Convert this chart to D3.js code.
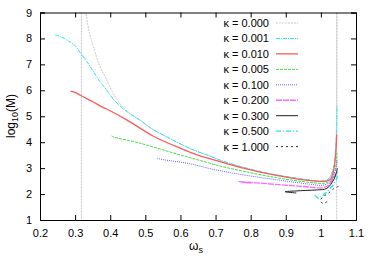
<!DOCTYPE html>
<html><head><meta charset="utf-8">
<script src="https://cdn.jsdelivr.net/npm/d3@7"></script>
<style>
html,body{margin:0;padding:0;background:#fff;}
text{font-family:"Liberation Sans",Arial,sans-serif;}
</style></head>
<body>
<svg id="c" width="374" height="262"></svg>
<script>
// ---- data ----
const xTicks = [0.2,0.3,0.4,0.5,0.6,0.7,0.8,0.9,1,1.1];
const yTicks = [1,2,3,4,5,6,7,8,9];
const refLines = [0.318, 1.045];
const kappaLabels = ["κ = 0.000","κ = 0.001","κ = 0.010","κ = 0.005","κ = 0.100","κ = 0.200","κ = 0.300","κ = 0.500","κ = 1.000"];

const k000 = [[0.329,9.4],[0.331,9.0],[0.341,8.2],[0.352,7.68],[0.37,6.95],[0.39,6.40],[0.41,5.85],[0.433,5.40],[0.46,5.07],[0.485,4.84],[0.52,4.50],[0.561,4.20],[0.60,3.93],[0.637,3.70],[0.684,3.46],[0.713,3.30],[0.78,3.02],[0.85,2.79],[0.92,2.62],[0.969,2.52],[1.0,2.48],[1.02,2.56],[1.035,2.95],[1.042,3.8],[1.045,5.5],[1.046,9.5]];
const k001 = [[0.243,8.13],[0.255,8.10],[0.276,7.94],[0.30,7.72],[0.316,7.43],[0.335,7.08],[0.352,6.72],[0.37,6.35],[0.39,6.01],[0.409,5.65],[0.428,5.40],[0.45,5.15],[0.485,4.85],[0.52,4.50],[0.561,4.21],[0.60,3.93],[0.637,3.70],[0.684,3.47],[0.713,3.31],[0.78,3.03],[0.85,2.80],[0.92,2.64],[0.969,2.54],[1.0,2.50],[1.02,2.57],[1.035,2.95],[1.042,3.7],[1.045,4.5],[1.046,5.4]];
const k010 = [[0.287,5.97],[0.30,5.92],[0.316,5.80],[0.35,5.56],[0.371,5.40],[0.39,5.28],[0.447,4.86],[0.523,4.23],[0.599,3.77],[0.65,3.50],[0.713,3.25],[0.779,3.00],[0.874,2.72],[0.935,2.58],[0.98,2.51],[1.01,2.49],[1.026,2.56],[1.036,2.9],[1.042,3.5],[1.045,4.3]];
const k005 = [[0.404,4.24],[0.41,4.20],[0.485,3.96],[0.599,3.51],[0.684,3.19],[0.713,3.08],[0.779,2.88],[0.874,2.63],[0.969,2.45],[1.01,2.42],[1.028,2.52],[1.038,2.8],[1.044,3.2],[1.046,3.6]];
const k100 = [[0.534,3.38],[0.55,3.33],[0.627,3.17],[0.684,2.98],[0.713,2.90],[0.779,2.74],[0.874,2.55],[0.969,2.38],[1.005,2.34],[1.025,2.45],[1.037,2.75],[1.044,3.05],[1.046,3.3]];
const k200 = [[0.80,2.42],[0.765,2.48],[0.80,2.45],[0.874,2.37],[0.969,2.27],[1.0,2.24],[1.02,2.32],[1.035,2.6],[1.043,2.8],[1.046,2.9]];
const k300 = [[0.93,2.04],[0.898,2.09],[0.93,2.12],[0.955,2.14],[0.99,2.16],[1.017,2.22],[1.036,2.54],[1.045,2.86],[1.047,3.0]];
const k500 = [[0.983,1.96],[0.993,1.84],[1.002,1.90],[1.012,2.03],[1.031,2.28],[1.045,2.61],[1.047,2.9]];
const k1000 = [[1.05,2.30],[1.036,2.20],[1.021,2.03],[1.007,1.90],[0.998,1.74],[1.007,1.64],[1.018,1.71]];

const seriesData = [k000,k001,k010,k005,k100,k200,k300,k500,k1000];
const colors = ["#cccccc","#22e8ee","#ff5a5a","#44dd44","#6666ff","#ff66ff","#202020","#22e8ee","#303030"];
const dashes = ["2,1","4,1,1,1","none","3,1","1,1","6,1","none","5,2,1,2","2,3"];
const widths = [1,1,1.3,1,1,1.3,1,1.4,1];

// ---- chart ----
const svg = d3.select("#c");
const L=40, R=356, T=12.5, B=220;
const x = d3.scaleLinear().domain([0.2,1.1]).range([L,R]);
const y = d3.scaleLinear().domain([1,9]).range([B,T]);

svg.append("defs").append("clipPath").attr("id","clip")
  .append("rect").attr("x",L).attr("y",T).attr("width",R-L).attr("height",B-T);

const g = svg.append("g");

// reference lines
g.selectAll("line.ref").data(refLines).enter().append("line")
  .attr("x1",d=>x(d)).attr("x2",d=>x(d)).attr("y1",T).attr("y2",B)
  .attr("stroke","#c4c4c4").attr("stroke-width",1).attr("stroke-dasharray","2,1");

const line = d3.line().x(d=>x(d[0])).y(d=>y(d[1])).curve(d3.curveCatmullRom.alpha(0.5));
const plot = g.append("g").attr("clip-path","url(#clip)");
seriesData.forEach((s,i)=>{
  plot.append("path").attr("d",line(s)).attr("fill","none")
    .attr("stroke",colors[i]).attr("stroke-width",widths[i])
    .attr("stroke-dasharray",dashes[i]);
});

// axes (gnuplot style: inward ticks, mirrored)
const fmtX = d=> d===1 ? "1" : d3.format(".1f")(d);
svg.append("g").attr("transform",`translate(0,${B})`)
  .call(d3.axisBottom(x).tickValues(xTicks).tickSize(-5).tickPadding(9).tickFormat(fmtX));
svg.append("g").attr("transform",`translate(0,${T})`)
  .call(d3.axisTop(x).tickValues(xTicks).tickSize(-5).tickFormat(""));
svg.append("g").attr("transform",`translate(${L},0)`)
  .call(d3.axisLeft(y).tickValues(yTicks).tickSize(-5).tickPadding(8).tickFormat(d3.format("d")));
svg.append("g").attr("transform",`translate(${R},0)`)
  .call(d3.axisRight(y).tickValues(yTicks).tickSize(-5).tickFormat(""));
svg.selectAll(".domain").attr("stroke","#000").attr("stroke-width",1);
svg.selectAll(".tick line").attr("stroke","#000");
svg.selectAll(".tick text").attr("font-size",11).attr("fill","#000")
  .attr("font-family","'Liberation Sans',Arial,sans-serif");

// labels
const xl = svg.append("text").attr("x",196).attr("y",250).attr("text-anchor","middle").attr("font-size",12);
xl.append("tspan").text("ω");
xl.append("tspan").attr("font-size",9).attr("dy",3).text("s");
const yl = svg.append("text").attr("transform","translate(15,116) rotate(-90)").attr("text-anchor","middle").attr("font-size",12);
yl.append("tspan").text("log");
yl.append("tspan").attr("font-size",9).attr("dy",3).text("10");
yl.append("tspan").attr("dy",-3).text("(M)");

// legend
const leg = svg.append("g");
kappaLabels.forEach((lab,i)=>{
  const yy = 23 + i*15.45;
  leg.append("text").attr("x",269).attr("y",yy+4).attr("text-anchor","end").attr("font-size",11).text(lab);
  leg.append("line").attr("x1",276).attr("x2",298).attr("y1",yy).attr("y2",yy)
    .attr("stroke",colors[i]).attr("stroke-width",widths[i]).attr("stroke-dasharray",dashes[i]);
});
</script>
</body></html>
